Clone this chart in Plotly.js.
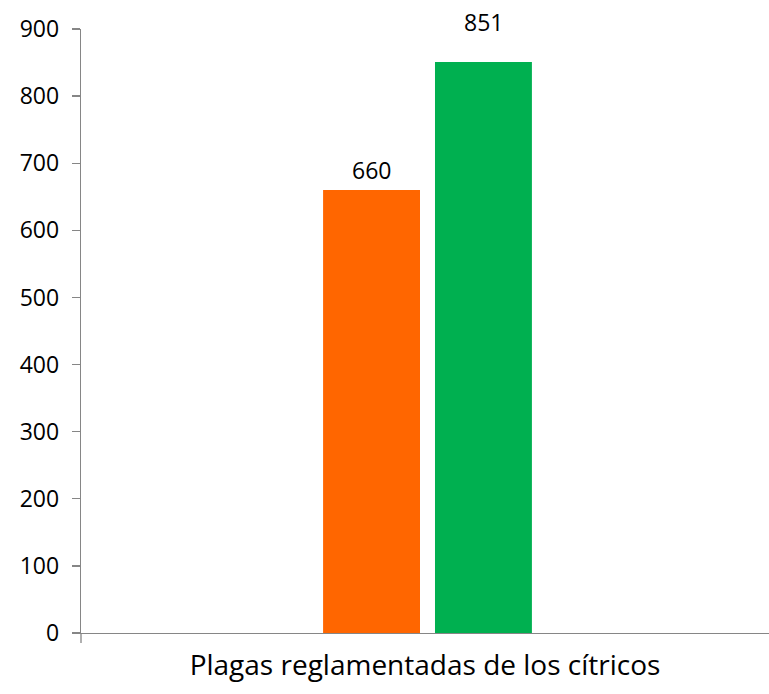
<!DOCTYPE html>
<html><head><meta charset="utf-8">
<script src="https://cdn.plot.ly/plotly-3.0.1.min.js"></script>
<style>body{margin:0;padding:0;background:#fff}#chart{width:769px;height:694px}</style>
</head><body><div id="chart"></div>
<script>
const categories = ["Plagas reglamentadas de los cítricos"];
const seriesA = [660];
const seriesB = [851];
const colors = ["#FF6600", "#00B050"];
const yTicks = [0,100,200,300,400,500,600,700,800,900];

const font = "'Open Sans', sans-serif";
const traces = [
  {type:'bar', x:categories, y:seriesA, marker:{color:colors[0]}, hoverinfo:'none'},
  {type:'bar', x:categories, y:seriesB, marker:{color:colors[1]}, hoverinfo:'none'}
];
const annotations = [
  {x:categories[0], y:seriesA[0], text:String(seriesA[0]), xshift:-56, yshift:20},
  {x:categories[0], y:seriesB[0], text:String(seriesB[0]), xshift:56, yshift:40}
].map(a => Object.assign({xref:'x', yref:'y', showarrow:false, font:{family:font,size:23,color:'#000'}}, a));

const layout = {
  width:769, height:694,
  margin:{l:81, r:0, t:29, b:61},
  showlegend:false,
  paper_bgcolor:'#fff', plot_bgcolor:'#fff',
  bargap:0.677, bargroupgap:0.134, barmode:'group',
  font:{family:font, size:23, color:'#000'},
  xaxis:{
    type:'category', range:[-0.5, 0.4928], showline:true, linecolor:'#868686', linewidth:1.3,
    showticklabels:false, ticks:'', showgrid:false, zeroline:false,
    title:{text:categories[0], font:{family:font, size:28, color:'#000'}, standoff:22}
  },
  yaxis:{
    range:[0,900], tickvals:yTicks, ticktext:yTicks.map(String), showline:true, linecolor:'#868686', linewidth:1.3,
    ticks:'outside', ticklen:8, tickcolor:'#868686', tickwidth:1.3, showgrid:false, zeroline:false,
    tickfont:{family:font, size:23, color:'#000'}, ticklabelstandoff:8
  },
  shapes:[{type:'line', xref:'paper', yref:'paper', x0:0, x1:0, y0:0, y1:-0.0166, line:{color:'#868686', width:1.3}}],
  annotations:annotations
};
Plotly.newPlot('chart', traces, layout, {staticPlot:true, displayModeBar:false});
</script></body></html>
